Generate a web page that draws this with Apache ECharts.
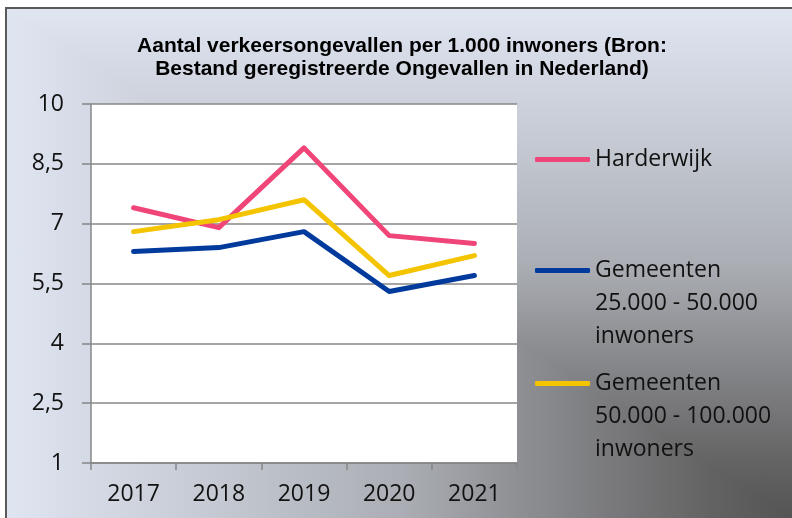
<!DOCTYPE html>
<html>
<head>
<meta charset="utf-8">
<script src="https://cdn.jsdelivr.net/npm/echarts@6/dist/echarts.min.js"></script>
<style>
body { margin: 0; background: #fff; overflow: hidden; }
#bg {
  position: absolute; left: 5px; top: 7px; width: 787px; height: 511px;
  box-sizing: border-box;
  border-left: 2px solid #595959; border-top: 2px solid #595959;
  background-image:
    linear-gradient(to left, #545454 0%, #626262 10%, #747476 20%, #8e9094 35%, #abaeb4 50%, #c0c5ce 70%, #d0d5e0 85%, #dfe5f1 100%),
    linear-gradient(to top, #545454 0%, #626262 10%, #747476 20%, #8e9094 35%, #abaeb4 50%, #c0c5ce 70%, #d0d5e0 85%, #dfe5f1 100%);
  background-blend-mode: lighten;
}
#chart { position: absolute; left: 0; top: 0; width: 792px; height: 518px; }
</style>
</head>
<body>
<div id="bg"></div>
<div id="chart"></div>
<script>
const years = ['2017', '2018', '2019', '2020', '2021'];
const harderwijk = [7.4, 6.9, 8.9, 6.7, 6.5];
const gem25to50 = [6.3, 6.4, 6.8, 5.3, 5.7];
const gem50to100 = [6.8, 7.1, 7.6, 5.7, 6.2];
const yTickLabels = ['1', '2,5', '4', '5,5', '7', '8,5', '10'];

const seriesNames = [
  'Harderwijk',
  'Gemeenten\n25.000 - 50.000\ninwoners',
  'Gemeenten\n50.000 - 100.000\ninwoners'
];
const colors = ['#ef4579', '#003a9c', '#f4c400'];

const chart = echarts.init(document.getElementById('chart'));

const legendText = {
  color: '#111',
  fontFamily: 'Open Sans',
  fontSize: 23,
  lineHeight: 33
};

// legend text is centred on the icon, so pad multi-line names with
// leading blank lines to put the icon beside the first line
const makeLegend = (name, top) => ({
  data: [name],
  left: 535,
  top: top,
  orient: 'vertical',
  icon: 'roundRect',
  itemWidth: 55,
  itemHeight: 5,
  padding: 0,
  textStyle: legendText,
  formatter: n => {
    const extra = n.split('\n').length - 1;
    return '\n'.repeat(extra) + n;
  }
});

const gridLine = { color: '#878787', width: 1.5 };

chart.setOption({
  animation: false,
  color: colors,
  title: {
    text: 'Aantal verkeersongevallen per 1.000 inwoners (Bron:\nBestand geregistreerde Ongevallen in Nederland)',
    left: 402,
    top: 30,
    textAlign: 'center',
    padding: [5, 0, 5, 0],
    textStyle: {
      fontFamily: 'Liberation Sans',
      fontWeight: 'bold',
      fontSize: 21,
      lineHeight: 23,
      color: '#000'
    }
  },
  legend: [
    makeLegend(seriesNames[0], 143),
    makeLegend(seriesNames[1], 188),
    makeLegend(seriesNames[2], 301)
  ],
  grid: {
    left: 91,
    right: 275,
    top: 104,
    bottom: 55,
    show: true,
    backgroundColor: '#fff',
    borderWidth: 0
  },
  xAxis: {
    type: 'category',
    data: years,
    boundaryGap: true,
    axisLine: { lineStyle: gridLine },
    axisTick: { show: true, length: 7, lineStyle: gridLine },
    axisLabel: {
      margin: 20,
      color: '#111',
      fontFamily: 'Open Sans',
      fontSize: 23
    },
    splitLine: { show: false }
  },
  yAxis: {
    type: 'value',
    min: 1,
    max: 10,
    interval: 1.5,
    axisLine: { show: true, lineStyle: gridLine },
    axisTick: { show: true, length: 9, lineStyle: gridLine },
    axisLabel: {
      margin: 27,
      color: '#111',
      fontFamily: 'Open Sans',
      fontSize: 23,
      formatter: (v, i) => yTickLabels[i]
    },
    splitLine: { show: true, lineStyle: gridLine }
  },
  series: [
    { name: seriesNames[0], type: 'line', data: harderwijk },
    { name: seriesNames[1], type: 'line', data: gem25to50 },
    { name: seriesNames[2], type: 'line', data: gem50to100 }
  ].map(s => Object.assign(s, {
    showSymbol: false,
    symbol: 'none',
    lineStyle: { width: 5, cap: 'round', join: 'round' }
  }))
});
</script>
</body>
</html>
